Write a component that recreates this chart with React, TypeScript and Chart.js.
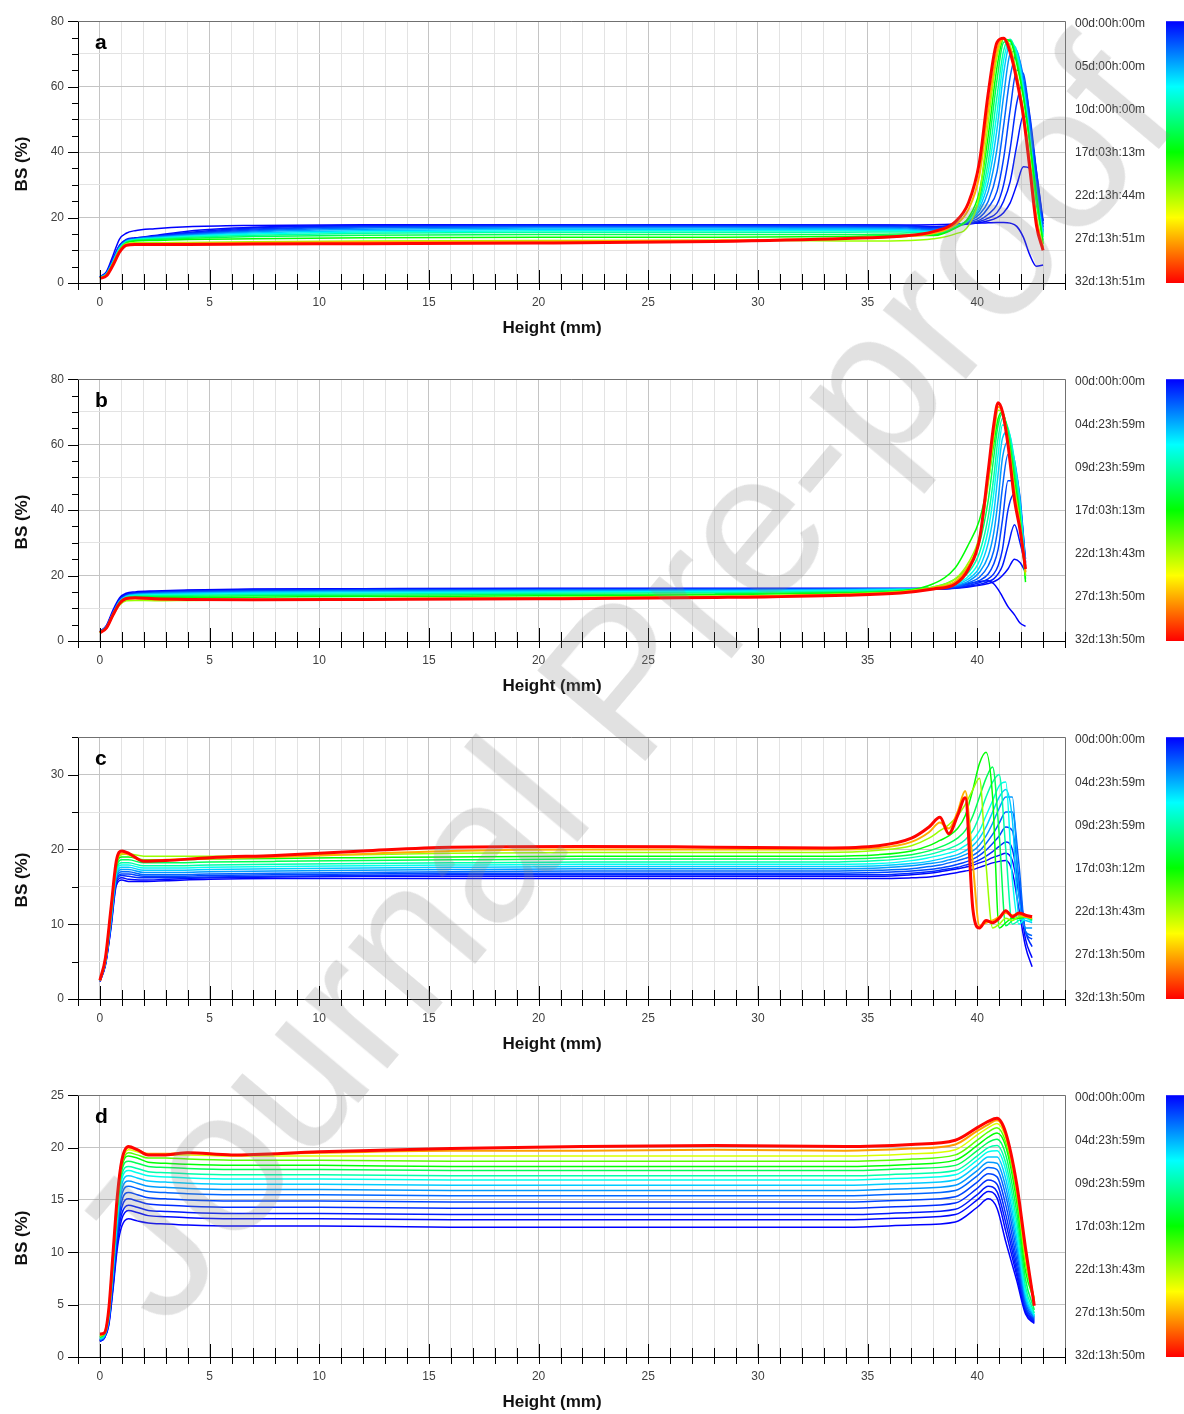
import React, { useEffect, useRef } from "react";
import { Chart, registerables } from "chart.js";

Chart.register(...registerables);

const FONT = '"Liberation Sans", Arial, Helvetica, sans-serif';
const WIDTH = 1184;

// ---------------- Panel a ----------------
const colorbarLabelsA = ["00d:00h:00m", "05d:00h:00m", "10d:00h:00m", "17d:03h:13m", "22d:13h:44m", "27d:13h:51m", "32d:13h:51m"];
const heightA = [0, 0.3, 0.6, 0.9, 1.2, 1.6, 2.5, 4, 7, 12, 20, 28, 34, 36.5, 38, 39, 39.6, 40.1, 40.5, 40.9, 41.2, 41.5, 41.8, 42.1, 42.4, 42.7, 43.0];
const timesA = [0, 0.3, 0.7, 1.2, 2, 3, 4.5, 6, 8, 10, 13.5, 17, 22, 27.5, 32.5];
const bsA = [
  [1.9, 3.5, 8.5, 13.5, 15.2, 16.0, 16.6, 17.2, 17.6, 17.8, 17.8, 17.8, 17.7, 17.7, 17.8, 18.0, 18.2, 18.3, 18.4, 18.5, 18.5, 18.3, 17.3, 14, 8.5, 5.1, 5.5],
  [1.8, 3.2, 7.5, 11.6, 13.3, 13.8, 14.5, 15.8, 17.0, 17.6, 17.8, 17.8, 17.7, 17.6, 17.2, 17.7, 18.0, 18.4, 19, 20, 21.5, 24.5, 30, 35.5, 35, 27, 19],
  [1.8, 3.1, 7.3, 11.4, 13.1, 13.6, 14.3, 15.4, 16.8, 17.5, 17.7, 17.7, 17.6, 17.5, 17, 17.6, 18.1, 18.8, 19.8, 21.5, 25, 31, 42, 51, 48, 34, 19],
  [1.8, 3.0, 7.2, 11.3, 13.0, 13.5, 14.2, 15.2, 16.5, 17.3, 17.5, 17.5, 17.5, 17.4, 16.8, 17.6, 18.3, 19.2, 21, 24, 30, 41, 55, 61, 51, 34, 18],
  [1.8, 3.0, 7.0, 11.2, 13.0, 13.5, 14.2, 15.0, 16.2, 17.1, 17.3, 17.3, 17.3, 17.2, 16.5, 17.6, 18.6, 20, 23, 28, 38, 53, 65, 64, 50, 32, 17],
  [1.7, 2.9, 6.8, 11.0, 12.9, 13.4, 14.0, 14.8, 15.9, 16.8, 17.1, 17.1, 17.0, 16.9, 16.3, 17.5, 18.8, 21, 25, 34, 48, 63, 70, 63, 48, 30, 16],
  [1.7, 2.8, 6.6, 10.8, 12.8, 13.3, 13.9, 14.6, 15.6, 16.4, 16.8, 16.8, 16.7, 16.6, 16, 17.4, 19, 22, 28, 41, 57, 70, 71, 61, 46, 28, 15.5],
  [1.7, 2.8, 6.5, 10.7, 12.7, 13.3, 13.8, 14.4, 15.3, 16.0, 16.4, 16.4, 16.4, 16.3, 15.8, 17.3, 19.2, 23, 31, 47, 64, 73, 71, 60, 45, 27, 15],
  [1.6, 2.7, 6.4, 10.6, 12.6, 13.2, 13.6, 14.2, 15.0, 15.6, 16.0, 16.0, 16.0, 16.0, 15.5, 17.2, 19.3, 24, 34, 52, 68, 74, 70, 59, 44, 26, 14.5],
  [1.6, 2.7, 6.3, 10.5, 12.5, 13.1, 13.5, 14.0, 14.6, 15.2, 15.5, 15.5, 15.5, 15.6, 15.2, 17, 19.5, 25, 37, 57, 71, 74.5, 69, 58, 43, 25, 14],
  [1.6, 2.6, 6.2, 10.3, 12.4, 13.0, 13.3, 13.7, 14.2, 14.6, 14.8, 14.8, 14.8, 15.0, 14.8, 16.8, 19.5, 26, 41, 62, 73.5, 74, 68, 57, 42, 24, 13],
  [1.5, 2.5, 6.0, 10.0, 12.2, 12.8, 13.0, 13.3, 13.5, 13.8, 14.0, 14.0, 14.2, 14.5, 14.5, 16.8, 20, 28, 45, 66, 74.5, 74, 67, 57, 43, 27, 12],
  [1.5, 2.5, 6.0, 10.0, 12.0, 12.3, 12.3, 12.4, 12.6, 12.8, 13.0, 13.1, 12.8, 12.9, 13.5, 15, 17.5, 27, 49, 69, 74.5, 72.5, 64, 53, 38, 20.5, 11],
  [1.5, 2.4, 5.8, 9.8, 11.7, 12.0, 12.0, 12.1, 12.3, 12.5, 12.7, 13.0, 13.6, 14.2, 15.2, 17.8, 22.5, 33, 53, 71, 74.7, 71.5, 63, 52, 36, 19, 10.5],
  [1.4, 2.2, 5.5, 9.5, 11.5, 11.8, 11.8, 11.8, 11.9, 12.0, 12.2, 12.7, 13.6, 14.3, 15.7, 18.7, 24.5, 37, 58, 73.5, 74.8, 70.5, 62, 51, 34.7, 17.6, 10],
];

// ---------------- Panel b ----------------
const colorbarLabelsB = ["00d:00h:00m", "04d:23h:59m", "09d:23h:59m", "17d:03h:13m", "22d:13h:43m", "27d:13h:50m", "32d:13h:50m"];
const heightB = [0, 0.3, 0.6, 0.9, 1.2, 1.6, 2.5, 4, 7, 12, 20, 28, 34, 36.5, 38, 39, 39.6, 40.1, 40.5, 40.75, 40.95, 41.15, 41.4, 41.7, 41.95, 42.2];
const timesB = [0, 0.3, 0.7, 1.2, 2, 3, 4.5, 6, 8, 10, 13.5, 17, 22, 27.5, 32.5];
const bsB = [
  [2.9, 4.8, 9.5, 13.2, 14.6, 15.0, 15.3, 15.6, 15.9, 16.0, 16.1, 16.1, 16.1, 16.1, 16.2, 16.8, 17.5, 18.2, 18.4, 17.5, 15.8, 13.5, 10.5, 8, 5.5, 4.5],
  [2.8, 4.6, 9.0, 12.7, 14.2, 14.7, 15.1, 15.4, 15.7, 15.9, 16.0, 16.0, 15.9, 15.9, 15.8, 16.1, 16.5, 17, 17.6, 18.1, 18.8, 20, 22, 25, 24, 21],
  [2.8, 4.5, 8.9, 12.6, 14.1, 14.6, 15.0, 15.3, 15.6, 15.8, 15.9, 15.9, 15.9, 15.9, 15.8, 16.2, 16.7, 17.3, 18.2, 19, 20.5, 23, 29, 35.5, 30, 23],
  [2.8, 4.5, 8.8, 12.5, 14.0, 14.5, 14.9, 15.2, 15.5, 15.7, 15.8, 15.9, 15.9, 15.9, 15.8, 16.3, 17, 17.8, 19, 20.5, 23, 28, 40, 45, 40, 24],
  [2.7, 4.4, 8.7, 12.4, 13.9, 14.4, 14.8, 15.1, 15.4, 15.6, 15.7, 15.8, 15.9, 16.0, 15.9, 16.5, 17.3, 18.5, 20.5, 23.5, 28, 37, 49, 49, 42, 25],
  [2.7, 4.4, 8.6, 12.3, 13.8, 14.3, 14.6, 14.9, 15.2, 15.4, 15.6, 15.7, 15.8, 16.0, 16, 16.7, 17.8, 19.5, 23, 27.5, 35, 47, 57, 53, 44, 24],
  [2.7, 4.3, 8.5, 12.2, 13.7, 14.2, 14.5, 14.7, 15.0, 15.2, 15.4, 15.5, 15.7, 15.9, 16, 16.9, 18.3, 21, 26, 33, 43, 56, 61, 55, 43, 23],
  [2.7, 4.3, 8.4, 12.1, 13.6, 14.1, 14.3, 14.5, 14.8, 15.0, 15.2, 15.3, 15.6, 15.8, 16.1, 17.2, 19, 22.5, 30, 39, 51, 62, 64, 55, 42, 22],
  [2.6, 4.2, 8.3, 12.0, 13.5, 13.9, 14.1, 14.2, 14.5, 14.7, 14.9, 15.1, 15.4, 15.7, 16.2, 17.5, 19.8, 24.5, 34, 45, 57, 66, 65, 54, 41, 21],
  [2.6, 4.2, 8.2, 11.9, 13.4, 13.8, 13.9, 14.0, 14.2, 14.4, 14.6, 14.8, 15.2, 15.6, 16.3, 18, 21, 27, 38, 50, 62, 68, 65, 53, 40, 20],
  [2.6, 4.1, 8.1, 11.8, 13.2, 13.5, 13.6, 13.7, 13.8, 14.0, 14.2, 14.4, 14.9, 15.4, 16.5, 19, 23, 30, 43, 56, 66, 69.5, 64, 51, 38, 19],
  [2.6, 4.1, 8.0, 11.6, 13.0, 13.3, 13.3, 13.3, 13.4, 13.6, 13.8, 14.1, 14.7, 15.3, 17.5, 22.4, 29.5, 37, 49, 60, 68, 70, 63, 49, 37, 18],
  [2.5, 4.0, 7.8, 11.0, 12.3, 12.4, 12.3, 12.4, 12.6, 12.9, 13.3, 13.7, 14.4, 15.1, 16.5, 19, 24, 32, 48, 62, 70.5, 70, 62, 47, 36, 20],
  [2.5, 4.0, 8.0, 11.5, 12.8, 13.0, 12.7, 12.6, 12.6, 12.8, 13.1, 13.5, 14.2, 14.9, 16.2, 18.2, 23, 31, 50, 64, 71.5, 70, 61, 45, 35, 21],
  [2.5, 4.0, 8.0, 11.5, 13.0, 13.2, 12.9, 12.7, 12.6, 12.7, 12.9, 13.3, 14.0, 14.7, 15.9, 17.4, 22, 31, 52, 66, 72.8, 70, 60, 43, 34, 22],
];

// ---------------- Panel c ----------------
const colorbarLabelsC = ["00d:00h:00m", "04d:23h:59m", "09d:23h:59m", "17d:03h:12m", "22d:13h:43m", "27d:13h:50m", "32d:13h:50m"];
const heightC = [0, 0.25, 0.5, 0.75, 1.0, 1.3, 2.0, 3.0, 5, 8, 12, 16, 22, 28, 33, 35.5, 37, 37.8, 38.3, 38.7, 39.1, 39.45, 39.8, 40.1, 40.4, 40.7, 41.0, 41.3, 41.6, 41.9, 42.2, 42.5];
const timesC = [0, 0.3, 1.2, 2, 3, 4.5, 6, 8, 10, 13.5, 17, 22, 27.5, 32.5];
const bsC = [
  [2.3, 4.5, 9.4, 15.2, 15.9, 15.7, 15.7, 15.8, 16.0, 16.1, 16.1, 16.1, 16.1, 16.1, 16.1, 16.1, 16.2, 16.3, 16.5, 16.7, 16.9, 17.1, 17.3, 17.6, 17.9, 18.2, 18.4, 18.5, 17, 12, 7, 4.3],
  [2.4, 4.6, 9.6, 15.5, 16.2, 16.0, 15.9, 16.0, 16.2, 16.3, 16.4, 16.4, 16.4, 16.4, 16.4, 16.4, 16.6, 16.8, 17.0, 17.2, 17.4, 17.6, 17.9, 18.2, 18.5, 18.9, 19.2, 19.5, 18.5, 14, 8, 5.5],
  [2.4, 4.7, 9.8, 15.8, 16.5, 16.4, 16.2, 16.2, 16.3, 16.4, 16.5, 16.6, 16.6, 16.6, 16.6, 16.6, 16.8, 17.0, 17.2, 17.4, 17.6, 17.9, 18.2, 18.6, 19.1, 19.7, 20.4, 21, 20, 15, 9, 7],
  [2.5, 4.8, 10.0, 16.0, 16.7, 16.7, 16.4, 16.4, 16.5, 16.6, 16.7, 16.8, 16.8, 16.8, 16.8, 16.9, 17.1, 17.3, 17.5, 17.7, 18.0, 18.3, 18.7, 19.2, 19.9, 20.8, 21.8, 23, 22.5, 16, 9, 8],
  [2.5, 4.8, 10.2, 16.2, 17.0, 17.0, 16.6, 16.6, 16.7, 16.8, 16.9, 17.0, 17.1, 17.1, 17.1, 17.2, 17.4, 17.7, 17.9, 18.2, 18.5, 18.8, 19.2, 19.8, 20.8, 22, 23.5, 25, 25, 18, 9, 8.5],
  [2.5, 4.9, 10.4, 16.5, 17.3, 17.3, 16.9, 16.9, 17.0, 17.1, 17.2, 17.3, 17.4, 17.4, 17.4, 17.5, 17.8, 18.1, 18.3, 18.6, 18.9, 19.3, 19.8, 20.6, 21.8, 23.5, 25.5, 27, 27, 14, 9.5, 9.5],
  [2.5, 4.9, 10.6, 16.8, 17.6, 17.6, 17.2, 17.2, 17.3, 17.4, 17.5, 17.6, 17.7, 17.7, 17.7, 17.8, 18.1, 18.4, 18.7, 19.0, 19.3, 19.8, 20.5, 21.5, 23, 25, 27, 28, 24, 11, 10.5, 10.2],
  [2.5, 5.0, 10.8, 17.0, 17.9, 17.9, 17.5, 17.5, 17.6, 17.7, 17.8, 17.9, 18.0, 18.0, 18.0, 18.1, 18.5, 18.9, 19.2, 19.5, 19.9, 20.5, 21.3, 22.5, 24.5, 26.5, 28.5, 29, 16, 10, 10.8, 10.4],
  [2.5, 5.0, 11.0, 17.2, 18.2, 18.2, 17.8, 17.8, 17.9, 18.0, 18.1, 18.2, 18.3, 18.3, 18.3, 18.5, 18.9, 19.3, 19.7, 20.1, 20.6, 21.3, 22.5, 24.5, 27, 29, 30, 20, 10, 10.5, 11, 10.5],
  [2.5, 5.1, 11.2, 17.5, 18.6, 18.6, 18.2, 18.2, 18.3, 18.4, 18.5, 18.6, 18.7, 18.7, 18.7, 18.9, 19.3, 19.8, 20.3, 20.8, 21.5, 22.5, 24.5, 27, 29.5, 31, 22, 9.8, 10.5, 10.8, 11, 10.6],
  [2.5, 5.2, 11.4, 17.8, 19.0, 19.0, 18.6, 18.6, 18.7, 18.8, 18.9, 19.0, 19.1, 19.1, 19.1, 19.3, 19.8, 20.5, 21.2, 21.8, 22.8, 24.5, 28, 31.5, 33, 27, 9.5, 10.2, 10.8, 10.8, 11, 10.7],
  [2.5, 5.3, 11.6, 18.0, 19.3, 19.4, 19.1, 19.1, 19.1, 19.2, 19.3, 19.5, 19.6, 19.6, 19.6, 19.9, 20.5, 21.5, 22.5, 23.3, 24.5, 26, 28, 29.5, 18, 9.5, 10, 10.8, 10.5, 11, 11, 10.8],
  [2.5, 5.4, 11.8, 18.2, 19.5, 19.3, 18.5, 18.6, 18.8, 19.0, 19.4, 19.8, 20.0, 20.0, 20.0, 20.2, 21.0, 22.3, 23.6, 22.8, 25.0, 27.8, 18, 9.8, 10.2, 10.5, 11.0, 11.5, 11.2, 11.3, 11.0, 10.8],
  [2.5, 5.5, 12, 18.5, 19.8, 19.5, 18.4, 18.5, 18.9, 19.2, 19.8, 20.3, 20.4, 20.3, 20.2, 20.5, 21.5, 23, 24.3, 22.1, 24.5, 26.9, 12, 9.5, 10.5, 10.2, 10.8, 11.8, 11, 11.5, 11.2, 11.0],
];

// ---------------- Panel d ----------------
const colorbarLabelsD = ["00d:00h:00m", "04d:23h:59m", "09d:23h:59m", "17d:03h:12m", "22d:13h:43m", "27d:13h:50m", "32d:13h:50m"];
const heightD = [0, 0.2, 0.4, 0.6, 0.8, 1.0, 1.3, 1.7, 2.2, 3, 4, 6, 10, 16, 22, 28, 34, 37, 39, 40, 40.5, 40.9, 41.3, 41.8, 42.2, 42.6];
const timesD = [0, 0.3, 0.7, 1.2, 2, 3, 4.5, 6, 8, 10, 13.5, 17, 20, 24, 28, 32.5];
const bsD = [
  [1.5, 1.8, 3.0, 6.5, 10.5, 12.5, 13.2, 13.0, 12.8, 12.7, 12.6, 12.5, 12.5, 12.4, 12.4, 12.4, 12.4, 12.6, 12.9, 14.3, 15.1, 14.2, 11.0, 7.3, 4.1, 3.2],
  [1.5, 1.8, 3.1, 6.8, 11.0, 13.2, 14.0, 13.8, 13.5, 13.4, 13.3, 13.2, 13.2, 13.1, 13.1, 13.1, 13.1, 13.3, 13.6, 15.0, 15.8, 15.2, 12.0, 7.8, 4.3, 3.3],
  [1.5, 1.9, 3.2, 7.0, 11.4, 13.7, 14.5, 14.3, 14.0, 13.9, 13.8, 13.7, 13.7, 13.6, 13.6, 13.6, 13.6, 13.8, 14.1, 15.5, 16.3, 15.8, 12.8, 8.2, 4.5, 3.4],
  [1.6, 1.9, 3.3, 7.3, 11.8, 14.3, 15.1, 14.9, 14.6, 14.5, 14.4, 14.3, 14.3, 14.2, 14.2, 14.2, 14.2, 14.4, 14.7, 16.1, 16.9, 16.5, 13.6, 8.7, 4.7, 3.5],
  [1.6, 1.9, 3.4, 7.6, 12.2, 14.9, 15.7, 15.5, 15.2, 15.1, 15.0, 14.9, 14.9, 14.8, 14.8, 14.8, 14.8, 15.0, 15.3, 16.7, 17.5, 17.2, 14.5, 9.3, 4.9, 3.6],
  [1.6, 2.0, 3.5, 7.9, 12.6, 15.5, 16.3, 16.1, 15.8, 15.7, 15.6, 15.5, 15.5, 15.4, 15.4, 15.4, 15.4, 15.6, 15.9, 17.3, 18.1, 17.9, 15.4, 10.0, 5.2, 3.7],
  [1.7, 2.0, 3.6, 8.1, 13.0, 16.0, 16.8, 16.6, 16.3, 16.2, 16.1, 16.0, 16.0, 15.9, 15.9, 15.9, 15.9, 16.1, 16.4, 17.8, 18.6, 18.5, 16.2, 10.7, 5.5, 3.8],
  [1.7, 2.0, 3.7, 8.3, 13.3, 16.5, 17.3, 17.1, 16.8, 16.7, 16.6, 16.5, 16.5, 16.4, 16.4, 16.4, 16.4, 16.6, 16.9, 18.3, 19.1, 19.1, 17.0, 11.4, 5.8, 3.9],
  [1.8, 2.1, 3.8, 8.6, 13.7, 17.0, 17.8, 17.6, 17.3, 17.2, 17.1, 17.0, 17.0, 16.9, 16.9, 16.9, 16.9, 17.1, 17.4, 18.8, 19.6, 19.7, 17.8, 12.1, 6.2, 4.0],
  [1.8, 2.1, 3.9, 8.8, 14.0, 17.4, 18.2, 18.0, 17.7, 17.6, 17.5, 17.4, 17.4, 17.3, 17.3, 17.3, 17.3, 17.5, 17.8, 19.2, 20.0, 20.2, 18.5, 12.9, 6.7, 4.2],
  [1.9, 2.2, 4.0, 9.0, 14.3, 17.8, 18.7, 18.5, 18.2, 18.1, 18.0, 17.9, 17.9, 17.8, 17.8, 17.8, 17.8, 18.0, 18.3, 19.7, 20.5, 20.8, 19.3, 13.8, 7.4, 4.5],
  [1.9, 2.2, 4.1, 9.2, 14.6, 18.1, 19.2, 19.0, 18.6, 18.5, 18.4, 18.3, 18.3, 18.2, 18.2, 18.2, 18.2, 18.4, 18.8, 20.2, 21.0, 21.4, 20.1, 14.8, 8.2, 5.4],
  [2.0, 2.2, 4.2, 9.4, 14.9, 18.3, 19.5, 19.3, 19.0, 19.0, 18.9, 18.8, 18.8, 18.7, 18.7, 18.7, 18.7, 18.9, 19.3, 20.7, 21.5, 21.9, 20.5, 15.4, 8.9, 5.6],
  [2.0, 2.3, 4.3, 9.6, 15.1, 18.5, 19.8, 19.6, 19.3, 19.3, 19.3, 19.2, 19.2, 19.2, 19.2, 19.2, 19.2, 19.4, 19.8, 21.2, 21.9, 22.3, 20.9, 15.9, 9.5, 5.4],
  [2.1, 2.3, 4.4, 9.8, 15.3, 18.7, 20.0, 19.8, 19.4, 19.4, 19.5, 19.3, 19.5, 19.7, 19.7, 19.8, 19.7, 19.9, 20.3, 21.6, 22.2, 22.6, 21.2, 16.2, 10.0, 5.2],
  [2.2, 2.3, 4.5, 10, 15.5, 18.8, 20.1, 19.8, 19.3, 19.3, 19.5, 19.3, 19.6, 19.9, 20.1, 20.2, 20.1, 20.3, 20.7, 21.9, 22.5, 22.8, 21.4, 16.5, 10.4, 4.9],
];

const xTitle = "Height (mm)";
const yTitle = "BS (%)";
const watermarkText = "Journal Pre-proof";

type PanelCfg = {
  letter: string;
  heights: number[];
  times: number[];
  rows: number[][];
  yMax: number;
  yLabelStep: number;
  yDark: number;
  yLight: number;
  cbLabels: string[];
};

const panels: PanelCfg[] = [
  { letter: "a", heights: heightA, times: timesA, rows: bsA, yMax: 80, yLabelStep: 20, yDark: 20, yLight: 10, cbLabels: colorbarLabelsA },
  { letter: "b", heights: heightB, times: timesB, rows: bsB, yMax: 80, yLabelStep: 20, yDark: 20, yLight: 10, cbLabels: colorbarLabelsB },
  { letter: "c", heights: heightC, times: timesC, rows: bsC, yMax: 35, yLabelStep: 10, yDark: 10, yLight: 5, cbLabels: colorbarLabelsC },
  { letter: "d", heights: heightD, times: timesD, rows: bsD, yMax: 25, yLabelStep: 5, yDark: 5, yLight: 5, cbLabels: colorbarLabelsD },
];

function parseDays(s: string): number {
  const m = /(\d+)d:(\d+)h:(\d+)m/.exec(s);
  return m ? Number(m[1]) + Number(m[2]) / 24 + Number(m[3]) / 1440 : 0;
}

function colourFor(t: number, labels: string[]): string {
  const ts = labels.map(parseDays);
  const n = ts.length - 1;
  let f = 1;
  for (let i = 0; i < n; i++) {
    if (t <= ts[i + 1]) {
      f = (i + (t - ts[i]) / (ts[i + 1] - ts[i])) / n;
      break;
    }
  }
  f = Math.max(0, Math.min(1, f));
  return `hsl(${Math.round(240 * (1 - f))}, 100%, 50%)`;
}

function decorPlugin(cfg: PanelCfg) {
  return {
    id: "decor",
    afterDraw(chart: any) {
      const ctx = chart.ctx as CanvasRenderingContext2D;
      const { left, right, top, bottom } = chart.chartArea;
      const xs = chart.scales.x;
      const ys = chart.scales.y;
      ctx.save();
      // frame top/right
      ctx.strokeStyle = "#707070";
      ctx.lineWidth = 1;
      ctx.beginPath();
      ctx.moveTo(left, Math.round(top) + 0.5);
      ctx.lineTo(Math.round(right) + 0.5, Math.round(top) + 0.5);
      ctx.lineTo(Math.round(right) + 0.5, bottom);
      ctx.stroke();
      // tick marks
      ctx.strokeStyle = "#000";
      ctx.beginPath();
      xs.ticks.forEach((t: any) => {
        const px = Math.round(xs.getPixelForValue(t.value)) + 0.5;
        const major = t.value % 5 === 0;
        ctx.moveTo(px, bottom - (major ? 13 : 9));
        ctx.lineTo(px, bottom + 7);
      });
      ys.ticks.forEach((t: any) => {
        const py = Math.round(ys.getPixelForValue(t.value)) + 0.5;
        const major = t.value % cfg.yLabelStep === 0;
        ctx.moveTo(left - (major ? 10 : 6), py);
        ctx.lineTo(left, py);
      });
      ctx.stroke();
      // panel letter
      ctx.fillStyle = "#000";
      ctx.font = `bold 21px ${FONT}`;
      ctx.textAlign = "left";
      ctx.textBaseline = "alphabetic";
      ctx.fillText(cfg.letter, 95, 49);
      // axis titles
      ctx.font = `bold 17px ${FONT}`;
      ctx.fillStyle = "#111";
      ctx.textAlign = "center";
      ctx.textBaseline = "middle";
      ctx.fillText(xTitle, 552, 328);
      ctx.save();
      ctx.translate(22, 164);
      ctx.rotate(-Math.PI / 2);
      ctx.fillText(yTitle, 0, 0);
      ctx.restore();
      // colour bar
      const g = ctx.createLinearGradient(0, top, 0, bottom);
      g.addColorStop(0, "hsl(240,100%,50%)");
      g.addColorStop(0.25, "hsl(180,100%,50%)");
      g.addColorStop(0.5, "hsl(120,100%,50%)");
      g.addColorStop(0.75, "hsl(60,100%,50%)");
      g.addColorStop(1, "hsl(0,100%,50%)");
      ctx.fillStyle = g;
      ctx.fillRect(1166, top, 18, bottom - top);
      ctx.fillStyle = "#333";
      ctx.font = `12px ${FONT}`;
      ctx.textAlign = "left";
      ctx.textBaseline = "middle";
      const n = cfg.cbLabels.length - 1;
      cfg.cbLabels.forEach((lab, i) => {
        const y = top + 2 + (i * (bottom - top - 3)) / n;
        ctx.fillText(lab, 1075, y);
      });
      ctx.restore();
    },
  };
}

function Panel({ cfg, top, height }: { cfg: PanelCfg; top: number; height: number }) {
  const ref = useRef<HTMLCanvasElement>(null);
  useEffect(() => {
    const canvas = ref.current;
    if (!canvas) return;
    const n = cfg.times.length;
    const datasets = cfg.times.map((t, i) => ({
      label: `${t} d`,
      data: cfg.heights.map((h, j) => ({ x: h, y: cfg.rows[i][j] })),
      borderColor: colourFor(t, cfg.cbLabels),
      backgroundColor: colourFor(t, cfg.cbLabels),
      borderWidth: i === n - 1 ? 3 : i === n - 2 ? 2 : 1.5,
      pointRadius: 0,
      fill: false,
      cubicInterpolationMode: "monotone" as const,
      order: n - i,
    }));
    const xHeight = height - 283;
    const chart = new Chart(canvas, {
      type: "line",
      data: { datasets },
      options: {
        animation: false,
        responsive: false,
        devicePixelRatio: 1,
        events: [],
        layout: { padding: { left: 0, right: 119, top: 18, bottom: 0 } },
        plugins: { legend: { display: false }, tooltip: { enabled: false } },
        scales: {
          x: {
            type: "linear",
            min: -1,
            max: 44,
            afterFit: (s: any) => {
              s.height = xHeight;
            },
            ticks: {
              stepSize: 1,
              autoSkip: false,
              maxRotation: 0,
              maxTicksLimit: 100,
              padding: 12,
              color: "#404040",
              font: { family: FONT, size: 12 },
              callback: (v: any) => (Number(v) % 5 === 0 ? String(v) : ""),
            },
            grid: {
              drawTicks: false,
              color: (c: any) => (c.tick && c.tick.value % 5 === 0 ? "#c4c4c4" : "#e3e3e3"),
              lineWidth: 1,
            },
            border: { display: true, color: "#000", width: 1 },
          },
          y: {
            type: "linear",
            min: 0,
            max: cfg.yMax,
            afterFit: (s: any) => {
              s.width = 78;
            },
            ticks: {
              stepSize: 5,
              autoSkip: false,
              maxTicksLimit: 100,
              padding: 14,
              color: "#404040",
              font: { family: FONT, size: 12 },
              callback: (v: any) => (Number(v) % cfg.yLabelStep === 0 ? String(v) : ""),
            },
            grid: {
              drawTicks: false,
              color: (c: any) => {
                const v = c.tick ? c.tick.value : 0;
                if (v % cfg.yDark === 0) return "#c4c4c4";
                if (v % cfg.yLight === 0) return "#e3e3e3";
                return "rgba(0,0,0,0)";
              },
              lineWidth: 1,
            },
            border: { display: true, color: "#000", width: 1 },
          },
        },
      },
      plugins: [decorPlugin(cfg)],
    } as any);
    return () => chart.destroy();
  }, [cfg, height]);
  return (
    <canvas
      ref={ref}
      width={WIDTH}
      height={height}
      style={{ position: "absolute", left: 0, top, width: WIDTH, height, display: "block" }}
    />
  );
}

export default function App() {
  const tops = [0, 358, 716, 1074];
  const heights = [358, 358, 358, 340];
  return (
    <div
      style={{
        position: "absolute",
        left: 0,
        top: 0,
        width: WIDTH,
        height: 1414,
        overflow: "hidden",
        background: "#fff",
      }}
    >
      {panels.map((p, i) => (
        <Panel key={p.letter} cfg={p} top={tops[i]} height={heights[i]} />
      ))}
      <div
        style={{
          position: "absolute",
          left: 620,
          top: 680,
          transform: "translate(-50%, -50%) rotate(-50deg)",
          fontFamily: FONT,
          fontSize: 205,
          lineHeight: 1,
          color: "rgba(128,128,128,0.24)",
          whiteSpace: "nowrap",
          pointerEvents: "none",
          zIndex: 2,
        }}
      >
        {watermarkText}
      </div>
    </div>
  );
}
